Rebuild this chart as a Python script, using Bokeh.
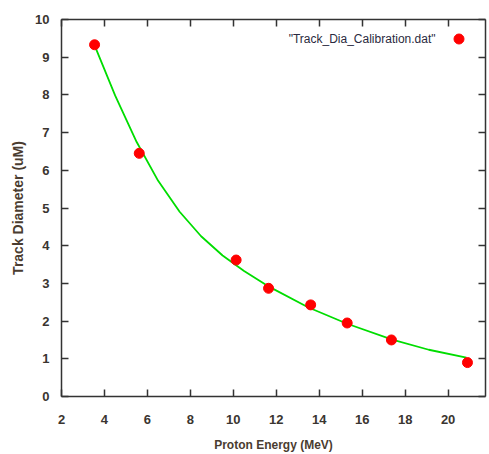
from bokeh.plotting import figure
from bokeh.models import (LinearAxis, Range1d, SingleIntervalTicker, Legend,
                          LegendItem, Label, ColumnDataSource)
from bokeh.embed import file_html
from bokeh.resources import INLINE

# measured calibration points
energy = [3.54, 5.62, 10.13, 11.64, 13.6, 15.3, 17.36, 20.9]
diameter = [9.33, 6.45, 3.62, 2.87, 2.43, 1.95, 1.5, 0.9]

# fitted curve
fit_energy = [3.55, 4.5, 5.5, 6.5, 7.5, 8.5, 9.5, 10.5, 11.7, 13.5, 15.3, 17.4, 19.1, 20.85]
fit_diameter = [9.30, 7.98, 6.75, 5.72, 4.90, 4.25, 3.74, 3.33, 2.90, 2.36, 1.93, 1.51, 1.24, 1.03]

legend_label = '"Track_Dia_Calibration.dat"'
x_label = "Proton Energy (MeV)"
y_label = "Track Diameter (uM)"

TXT = "#3a3530"
FONT = "Liberation Sans"

p = figure(width=489, height=454, output_backend="svg", toolbar_location=None,
           x_range=Range1d(2, 21.74), y_range=Range1d(0, 10),
           min_border_left=61, min_border_top=19, min_border_bottom=58,
           min_border_right=1, x_axis_location=None, y_axis_location=None)
p.grid.visible = False
p.outline_line_color = None
p.background_fill_color = "white"

def style_axis(ax, labels=True):
    ax.axis_line_color = "#333333"
    ax.axis_line_width = 1.5
    ax.major_tick_line_color = "#333333"
    ax.major_tick_line_width = 1.5
    ax.major_tick_in = 7
    ax.major_tick_out = 0
    ax.minor_tick_line_color = None
    ax.major_label_text_font = FONT
    ax.major_label_text_font_style = "bold"
    ax.major_label_text_font_size = "13px"
    ax.major_label_text_color = TXT
    ax.axis_label_text_font = FONT
    ax.axis_label_text_font_style = "bold"
    ax.axis_label_text_color = "#4a3c30"
    if not labels:
        ax.major_label_text_font_size = "0px"
        ax.major_label_text_alpha = 0

xb = LinearAxis(ticker=SingleIntervalTicker(interval=2), axis_label=x_label)
style_axis(xb)
xb.major_label_standoff = 14
xb.axis_label_standoff = 11
xb.axis_label_text_font_size = "12px"
p.add_layout(xb, "below")

yl = LinearAxis(ticker=SingleIntervalTicker(interval=1), axis_label=y_label)
style_axis(yl)
yl.major_label_standoff = 8
yl.axis_label_standoff = 6
yl.axis_label_text_font_size = "14px"
p.add_layout(yl, "left")

xt = LinearAxis(ticker=SingleIntervalTicker(interval=2))
style_axis(xt, labels=False)
xt.major_label_standoff = 0
p.add_layout(xt, "above")

yr = LinearAxis(ticker=SingleIntervalTicker(interval=1))
style_axis(yr, labels=False)
yr.major_label_standoff = 0
p.add_layout(yr, "right")

fit_src = ColumnDataSource(dict(x=fit_energy, y=fit_diameter))
pts_src = ColumnDataSource(dict(x=energy, y=diameter))

p.line("x", "y", source=fit_src, line_color="#00dd00", line_width=1.8)
pts = p.scatter("x", "y", source=pts_src, size=10, color="#ff0000")

legend = Legend(items=[LegendItem(label=" ", renderers=[pts])],
                location=(385, 345), padding=0, margin=0, spacing=0,
                glyph_width=25, glyph_height=25, label_standoff=0,
                label_text_font_size="6px", border_line_color=None,
                background_fill_alpha=0)
p.add_layout(legend, "center")

lab = Label(x=374, y=358, x_units="screen", y_units="screen", text=legend_label,
            text_align="right", text_baseline="middle", text_font=FONT,
            text_font_size="12px", text_color="#2a2a40")
p.add_layout(lab)

open("out.html", "w").write(file_html(p, INLINE))
